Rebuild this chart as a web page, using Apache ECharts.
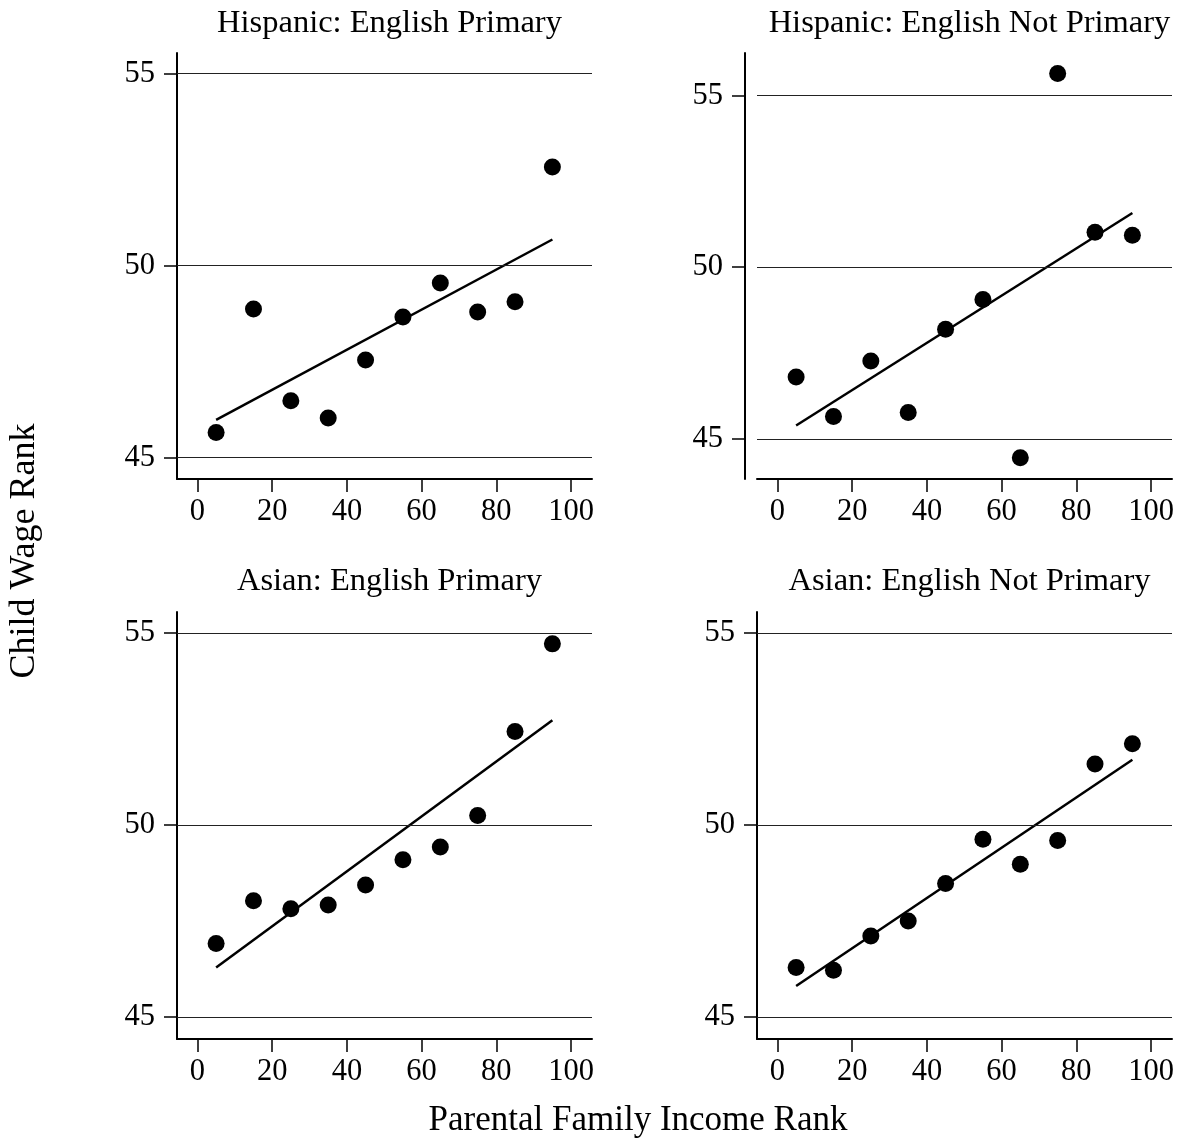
<!DOCTYPE html>
<html>
<head>
<meta charset="utf-8">
<script src="https://cdn.jsdelivr.net/npm/echarts@6/dist/echarts.min.js"></script>
<style>
html,body{margin:0;padding:0;background:#fff;}
#chart{width:1183px;height:1147px;}
</style>
</head>
<body>
<div id="chart"></div>
<script>
// ---- data ----
const incomeRank = [5, 15, 25, 35, 45, 55, 65, 75, 85, 95];
const panelTitles = [
  "Hispanic: English Primary",
  "Hispanic: English Not Primary",
  "Asian: English Primary",
  "Asian: English Not Primary"
];
const hispEngPrimary    = [45.65, 48.87, 46.48, 46.03, 47.54, 48.66, 49.55, 48.79, 49.06, 52.57];
const hispEngNotPrimary = [46.80, 45.65, 47.27, 45.77, 48.19, 49.06, 44.45, 55.64, 51.02, 50.93];
const asianEngPrimary   = [46.92, 48.03, 47.82, 47.92, 48.44, 49.10, 49.43, 50.25, 52.44, 54.72];
const asianEngNotPrimary= [46.29, 46.22, 47.11, 47.50, 48.48, 49.63, 48.98, 49.60, 51.59, 52.12];
// fitted line endpoints (value at x=5 and x=95)
const fitX = [5, 95];
const fitHispEngPrimary    = [45.98, 50.68];
const fitHispEngNotPrimary = [45.39, 51.58];
const fitAsianEngPrimary   = [46.29, 52.73];
const fitAsianEngNotPrimary= [45.81, 51.70];
const xTicks = [0, 20, 40, 60, 80, 100];
const yTicks = [45, 50, 55];
const xLabel = "Parental Family Income Rank";
const yLabel = "Child Wage Rank";

// ---- layout ----
const FONT = "Liberation Serif, Times New Roman, serif";
const FS = 30.5;
const grids = [
  {left:177, top:53,  width:415, height:426},
  {left:757, top:53,  width:415, height:426},
  {left:177, top:612, width:415, height:427},
  {left:757, top:612, width:415, height:427}
];
const yRanges = [[44.44,55.54],[43.83,56.24],[44.43,55.55],[44.43,55.55]];
const yOffsets = [0, 12, 0, 0];
const xRange = [-5.47, 105.6];
const seriesVals = [hispEngPrimary, hispEngNotPrimary, asianEngPrimary, asianEngNotPrimary];
const fits = [fitHispEngPrimary, fitHispEngNotPrimary, fitAsianEngPrimary, fitAsianEngNotPrimary];

const option = {
  backgroundColor:'#fff',
  animation:false,
  title: panelTitles.map((t,i)=>({
    text:t,
    left: grids[i].left + grids[i].width/2,
    top: i<2 ? 2 : 560,
    textAlign:'center',
    textStyle:{fontFamily:FONT,fontSize:32.5,fontWeight:'normal',color:'#000'}
  })),
  grid: grids,
  xAxis: grids.map((g,i)=>({
    type:'value', gridIndex:i, min:xRange[0], max:xRange[1],
    axisLine:{onZero:false,lineStyle:{color:'#000',width:2}},
    axisTick:{show:true,length:13,lineStyle:{color:'#000',width:1.5},customValues:xTicks},
    axisLabel:{color:'#000',fontFamily:FONT,fontSize:FS,margin:17,customValues:xTicks},
    splitLine:{show:false}
  })),
  yAxis: grids.map((g,i)=>({
    type:'value', gridIndex:i, min:yRanges[i][0], max:yRanges[i][1], offset:yOffsets[i],
    axisLine:{show:true,onZero:false,lineStyle:{color:'#000',width:2}},
    axisTick:{show:true,length:13,lineStyle:{color:'#000',width:1.5},customValues:yTicks},
    axisLabel:{color:'#000',fontFamily:FONT,fontSize:FS,margin:22,customValues:yTicks},
    splitLine:{show:false}
  })),
  graphic:[
    {type:'text',x:638,y:1103,style:{text:xLabel,font:'35px '+FONT,fill:'#000',align:'center',verticalAlign:'top'}},
    {type:'text',x:7,y:551,rotation:Math.PI/2,style:{text:yLabel,font:'36px '+FONT,fill:'#000',align:'center',verticalAlign:'top'}}
  ],
  series: []
};
for(let i=0;i<4;i++){
  option.series.push({
    type:'line', xAxisIndex:i, yAxisIndex:i, showSymbol:false, silent:true,
    data: fitX.map((x,k)=>[x,fits[i][k]]),
    lineStyle:{color:'#000',width:2.5},
    markLine:{silent:true,symbol:'none',label:{show:false},
      lineStyle:{color:'#222',width:1.2,type:'solid'},
      data: yTicks.filter(v=>v>yRanges[i][0]&&v<yRanges[i][1]).map(v=>({yAxis:v}))}
  });
  option.series.push({
    type:'scatter', xAxisIndex:i, yAxisIndex:i, symbolSize:17,
    itemStyle:{color:'#000',opacity:1},
    data: incomeRank.map((x,k)=>[x,seriesVals[i][k]])
  });
}
const chart = echarts.init(document.getElementById('chart'),null,{renderer:'canvas'});
chart.setOption(option);
</script>
</body>
</html>
